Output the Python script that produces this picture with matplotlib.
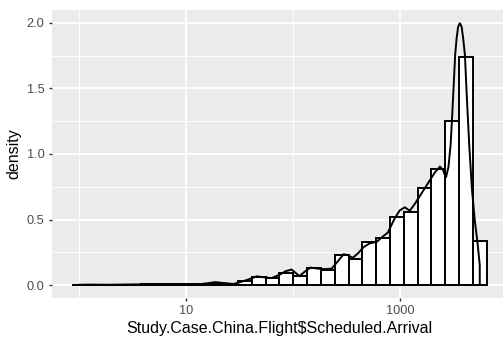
import matplotlib
matplotlib.use('Agg')
import numpy as np
import matplotlib.pyplot as plt
from matplotlib.ticker import NullFormatter

plt.rcParams['font.family'] = ['Liberation Sans', 'DejaVu Sans']

# histogram: 30 bins on log10 scale, first/last bins centred on min/max
arrival_min = 1
arrival_max = 5585
n_bins = 30
bin_density = [0.003, 0.0, 0.002, 0.0, 0.003, 0.004, 0.005, 0.004, 0.005, 0.004,
               0.018, 0.004, 0.030, 0.059, 0.050, 0.089, 0.071, 0.127, 0.115, 0.229,
               0.196, 0.331, 0.356, 0.521, 0.560, 0.743, 0.886, 1.252, 1.743, 0.338]

# kernel density curve
curve_arrival = [1.0, 1.24, 1.91, 2.94, 4.53, 6.97, 9.6, 13.3, 15.8, 18.8,
                 22.4, 27.8, 33.0, 39.2, 45.6, 51.9, 63.0, 74.8, 85.2, 97.0,
                 115, 128, 146, 170, 198, 230, 262, 298, 325, 362,
                 403, 459, 522, 608, 692, 771, 896, 998, 1112, 1239,
                 1380, 1538, 1714, 1910, 2125, 2368, 2525, 2694, 2844, 2981,
                 3100, 3200, 3290, 3390, 3500, 3640, 3780, 3910, 4055, 4235,
                 4450, 4720, 5035, 5310, 5585]
curve_density = [0.002, 0.003, 0.002, 0.004, 0.006, 0.005, 0.005, 0.006, 0.013, 0.022,
                 0.015, 0.008, 0.025, 0.045, 0.066, 0.060, 0.053, 0.078, 0.105, 0.118,
                 0.068, 0.100, 0.133, 0.125, 0.121, 0.125, 0.180, 0.235, 0.228, 0.207,
                 0.240, 0.290, 0.318, 0.330, 0.370, 0.400, 0.510, 0.570, 0.593, 0.567,
                 0.620, 0.680, 0.740, 0.800, 0.860, 0.903, 0.880, 0.820, 0.900, 1.070,
                 1.330, 1.560, 1.760, 1.880, 1.970, 2.000, 1.970, 1.880, 1.756, 1.420,
                 1.070, 0.730, 0.480, 0.330, 0.150]

y_ticks = [0.0, 0.5, 1.0, 1.5, 2.0]
x_ticks = [10, 1000]

log_lo, log_hi = np.log10(arrival_min), np.log10(arrival_max)
bw = (log_hi - log_lo) / (n_bins - 1)
log_edges = log_lo - bw / 2 + bw * np.arange(n_bins + 1)
edges = 10 ** log_edges

fig = plt.figure(figsize=(5.03, 3.41), dpi=100)
ax = fig.add_axes([51.5 / 503, (341 - 298.1) / 341, (507.4 - 51.5) / 503, (298.1 - 9.9) / 341])
ax.set_facecolor('#EBEBEB')
for s in ax.spines.values():
    s.set_visible(False)

ax.bar(edges[:-1], bin_density, width=np.diff(edges), align='edge',
       color='white', edgecolor='black', linewidth=1.4, zorder=2)
ax.fill(list(curve_arrival) + [curve_arrival[-1], curve_arrival[0]],
        list(curve_density) + [0, 0],
        facecolor='none', edgecolor='black', linewidth=1.4, zorder=3)

ax.set_xscale('log')
span = log_edges[-1] - log_edges[0]
ax.set_xlim(10 ** (log_edges[0] - 0.05 * span), 10 ** (log_edges[-1] + 0.05 * span))
ax.set_ylim(-0.1, 2.1)

ax.set_xticks(x_ticks)
ax.set_xticklabels([str(v) for v in x_ticks])
ax.set_xticks([1, 100, 10000], minor=True)
ax.xaxis.set_minor_formatter(NullFormatter())
ax.set_yticks(y_ticks)
ax.set_yticklabels(['%.1f' % v for v in y_ticks])
ax.set_yticks([0.25, 0.75, 1.25, 1.75], minor=True)

ax.grid(which='major', color='white', linewidth=1.4, zorder=0)
ax.grid(which='minor', color='white', linewidth=0.7, zorder=0)
ax.set_axisbelow(True)

ax.tick_params(which='major', length=2.2, width=1.0, color='#333333',
               labelcolor='#4D4D4D', labelsize=9.15, pad=2.9)
ax.tick_params(which='minor', length=0)

ax.set_xlabel(r'Study.Case.China.Flight\$Scheduled.Arrival', fontsize=11.5, labelpad=3)
ax.set_ylabel('density', fontsize=11.5, labelpad=3.5)

fig.savefig('out.png', dpi=100)
